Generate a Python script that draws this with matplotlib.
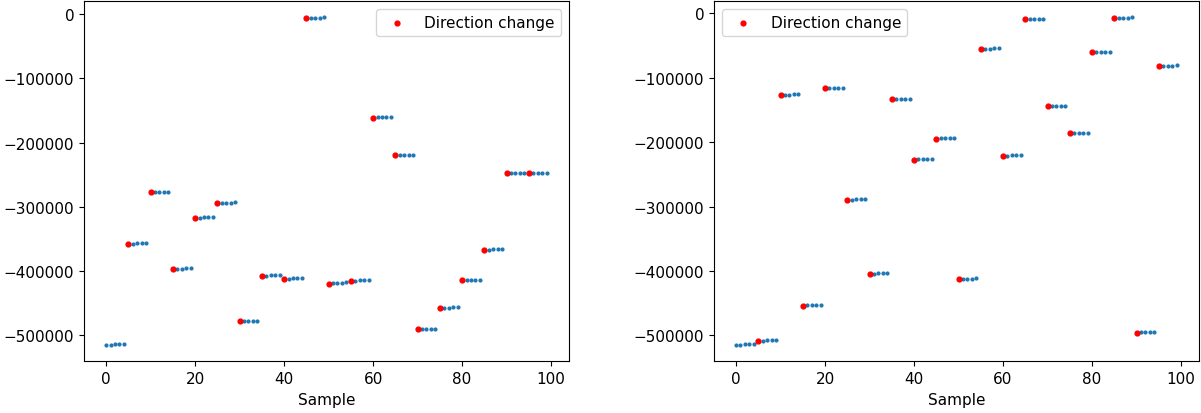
import matplotlib
matplotlib.use("Agg")
import matplotlib.pyplot as plt
import numpy as np

# Sample index
samples = list(range(100))

# Left panel: position values (groups of 5, slight drift within each group)
left_values = [
    -515000, -514600, -514200, -513800, -513400,
    -357500, -357300, -357100, -356900, -356700,
    -277000, -276800, -276600, -276400, -276200,
    -396500, -396300, -396100, -395900, -395700,
    -317000, -316800, -316600, -316400, -316200,
    -294000, -293800, -293600, -293400, -293200,
    -478500, -478300, -478100, -477900, -477700,
    -407500, -407000, -406500, -406000, -405500,
    -412000, -411700, -411400, -411100, -410800,
    -6000, -5800, -5600, -5400, -5200,
    -419500, -419000, -418500, -418000, -417500,
    -415500, -415100, -414700, -414300, -413900,
    -161000, -160800, -160600, -160400, -160200,
    -220000, -219800, -219600, -219400, -219200,
    -491000, -490700, -490400, -490100, -489800,
    -458000, -457600, -457200, -456800, -456400,
    -414500, -414200, -413900, -413600, -413300,
    -367000, -366700, -366400, -366100, -365800,
    -247500, -247300, -247100, -246900, -246700,
    -247500, -247300, -247100, -246900, -246700,
]

# Right panel: position values
right_values = [
    -515000, -514500, -514000, -513500, -513000,
    -509000, -508500, -508000, -507500, -507000,
    -126500, -126300, -126100, -125900, -125700,
    -454000, -453700, -453400, -453100, -452800,
    -116500, -116300, -116100, -115900, -115700,
    -289500, -289200, -288900, -288600, -288300,
    -404500, -404100, -403700, -403300, -402900,
    -133500, -133300, -133100, -132900, -132700,
    -227000, -226700, -226400, -226100, -225800,
    -194500, -194200, -193900, -193600, -193300,
    -413000, -412700, -412400, -412100, -411800,
    -55000, -54800, -54600, -54400, -54200,
    -221000, -220800, -220600, -220400, -220200,
    -9000, -8800, -8600, -8400, -8200,
    -144500, -144300, -144100, -143900, -143700,
    -186500, -186300, -186100, -185900, -185700,
    -60000, -59800, -59600, -59400, -59200,
    -7000, -6800, -6600, -6400, -6200,
    -496000, -495700, -495400, -495100, -494800,
    -81500, -81300, -81100, -80900, -80700,
]

# Direction change sample indices
left_changes = [5, 10, 15, 20, 25, 30, 35, 40, 45, 50, 55, 60, 65, 70, 75, 80, 85, 90, 95]
right_changes = [5, 10, 15, 20, 25, 30, 35, 40, 45, 50, 55, 60, 65, 70, 75, 80, 85, 90, 95]

fig, axes = plt.subplots(1, 2, figsize=(12.01, 4.14), dpi=100)
fig.subplots_adjust(left=0.070, right=0.998, top=0.995, bottom=0.125, wspace=0.30)

for ax, vals, chg, loc in [(axes[0], left_values, left_changes, "upper right"),
                           (axes[1], right_values, right_changes, "upper left")]:
    ax.plot(samples, vals, '.', color='#1f77b4', markersize=4)
    ax.scatter(chg, [vals[i] for i in chg], s=12, color='red', zorder=3,
               label='Direction change')
    ax.set_xlabel('Sample', fontsize=11)
    ax.tick_params(labelsize=11)
    ax.legend(loc=loc, fontsize=11)

fig.savefig('out.png', dpi=100)
